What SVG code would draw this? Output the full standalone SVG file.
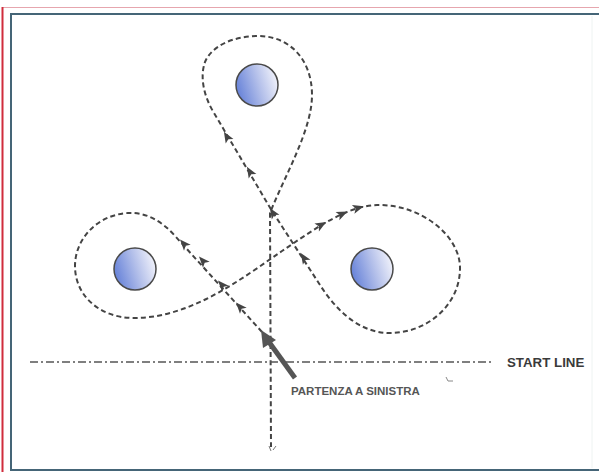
<svg xmlns="http://www.w3.org/2000/svg" width="599" height="472" viewBox="0 0 599 472">
  <style>
    .course { fill: none; stroke: #444; stroke-width: 2; stroke-dasharray: 5 3.2; }
    .startline { fill: none; stroke: #555; stroke-width: 1.5; stroke-dasharray: 8 3 2 3; }
    .mark { fill: url(#buoy); stroke: #4a4a4a; stroke-width: 1.5; }
    .lbl { font-family: "Liberation Sans", Arial, sans-serif; font-weight: bold; }
    .tip { fill: #444; }
  </style>
  <defs>
    <linearGradient id="buoy" x1="0" y1="0.65" x2="1" y2="0.35">
      <stop offset="0" stop-color="#6480d8"/>
      <stop offset="0.55" stop-color="#b4c0ea"/>
      <stop offset="1" stop-color="#f2f3fb"/>
    </linearGradient>
    <polygon id="ah" points="6,0 -5,-4.5 -2.5,0 -5,4.5"/>
  </defs>

  <rect x="0" y="0" width="599" height="472" fill="#ffffff"/>

  <!-- frame -->
  <g id="frame">
    <line x1="3" y1="7.5" x2="599" y2="7.5" stroke="#e6a6ae" stroke-width="1"/>
    <line x1="2.5" y1="7" x2="2.5" y2="472" stroke="#d02c3c" stroke-width="2"/>
    <line x1="11" y1="14" x2="11" y2="471" stroke="#456577" stroke-width="2"/>
    <line x1="10" y1="14" x2="599" y2="14" stroke="#456577" stroke-width="2"/>
    <line x1="10" y1="470" x2="599" y2="470" stroke="#456577" stroke-width="2"/>
    <line x1="592" y1="16" x2="592" y2="468" stroke="#eef3f2" stroke-width="1"/>
  </g>

  <!-- marks -->
  <g id="mark-top"><circle class="mark" cx="257" cy="85" r="21"/></g>
  <g id="mark-left"><circle class="mark" cx="135" cy="269" r="21"/></g>
  <g id="mark-right"><circle class="mark" cx="372" cy="269" r="21"/></g>

  <!-- connectors -->
  <g id="connectors">
    <path class="course" d="M 262,332 L 176,237 C 162,221 146,212 128,213 C 96,215 75,240 75,266 C 75,296 100,318 134,318 C 190,318 240,280 282,251 C 312,231 345,206 377,205 C 420,204 460,235 460,268 C 460,306 426,333 390,333 C 359,333 336,310 320,285 L 272,211 L 214,113 C 203,95 200,76 205,62 C 212,45 235,36 258,36 C 290,36 312,60 312,95 C 312,130 285,175 270,213 L 271,447"/>
    <line class="startline" x1="30" y1="362" x2="493" y2="362"/>

    <!-- direction arrowheads -->
    <use href="#ah" class="tip" transform="translate(240,307) rotate(-132)"/>
    <use href="#ah" class="tip" transform="translate(222,285) rotate(-132)"/>
    <use href="#ah" class="tip" transform="translate(203,261) rotate(-132)"/>
    <use href="#ah" class="tip" transform="translate(184,244) rotate(-132)"/>
    <use href="#ah" class="tip" transform="translate(321,225) rotate(-30)"/>
    <use href="#ah" class="tip" transform="translate(342,214) rotate(-25)"/>
    <use href="#ah" class="tip" transform="translate(358,208) rotate(-16)"/>
    <use href="#ah" class="tip" transform="translate(304,258) rotate(-123)"/>
    <use href="#ah" class="tip" transform="translate(273,213) rotate(-122)"/>
    <use href="#ah" class="tip" transform="translate(250,172) rotate(-121)"/>
    <use href="#ah" class="tip" transform="translate(227,137) rotate(-121)"/>

    <!-- start arrow -->
    <g id="start-arrow">
      <line x1="295" y1="378" x2="269" y2="342" stroke="#555" stroke-width="5"/>
      <polygon points="261,330 276,340 263,348" fill="#555"/>
    </g>

    <!-- stray marks -->
    <path d="M 269,446 L 271,451 M 273,450 L 276,446" stroke="#777" stroke-width="1" fill="none"/>
    <path d="M 446,377 L 448,381 L 453,381" stroke="#888" stroke-width="1" fill="none"/>
  </g>

  <!-- labels -->
  <g id="label-start">
    <text class="lbl" x="507" y="367" font-size="13.3" fill="#3a3a3a">START LINE</text>
  </g>
  <g id="label-partenza">
    <text class="lbl" x="291" y="395" font-size="11.5" fill="#565656">PARTENZA A SINISTRA</text>
  </g>
</svg>
